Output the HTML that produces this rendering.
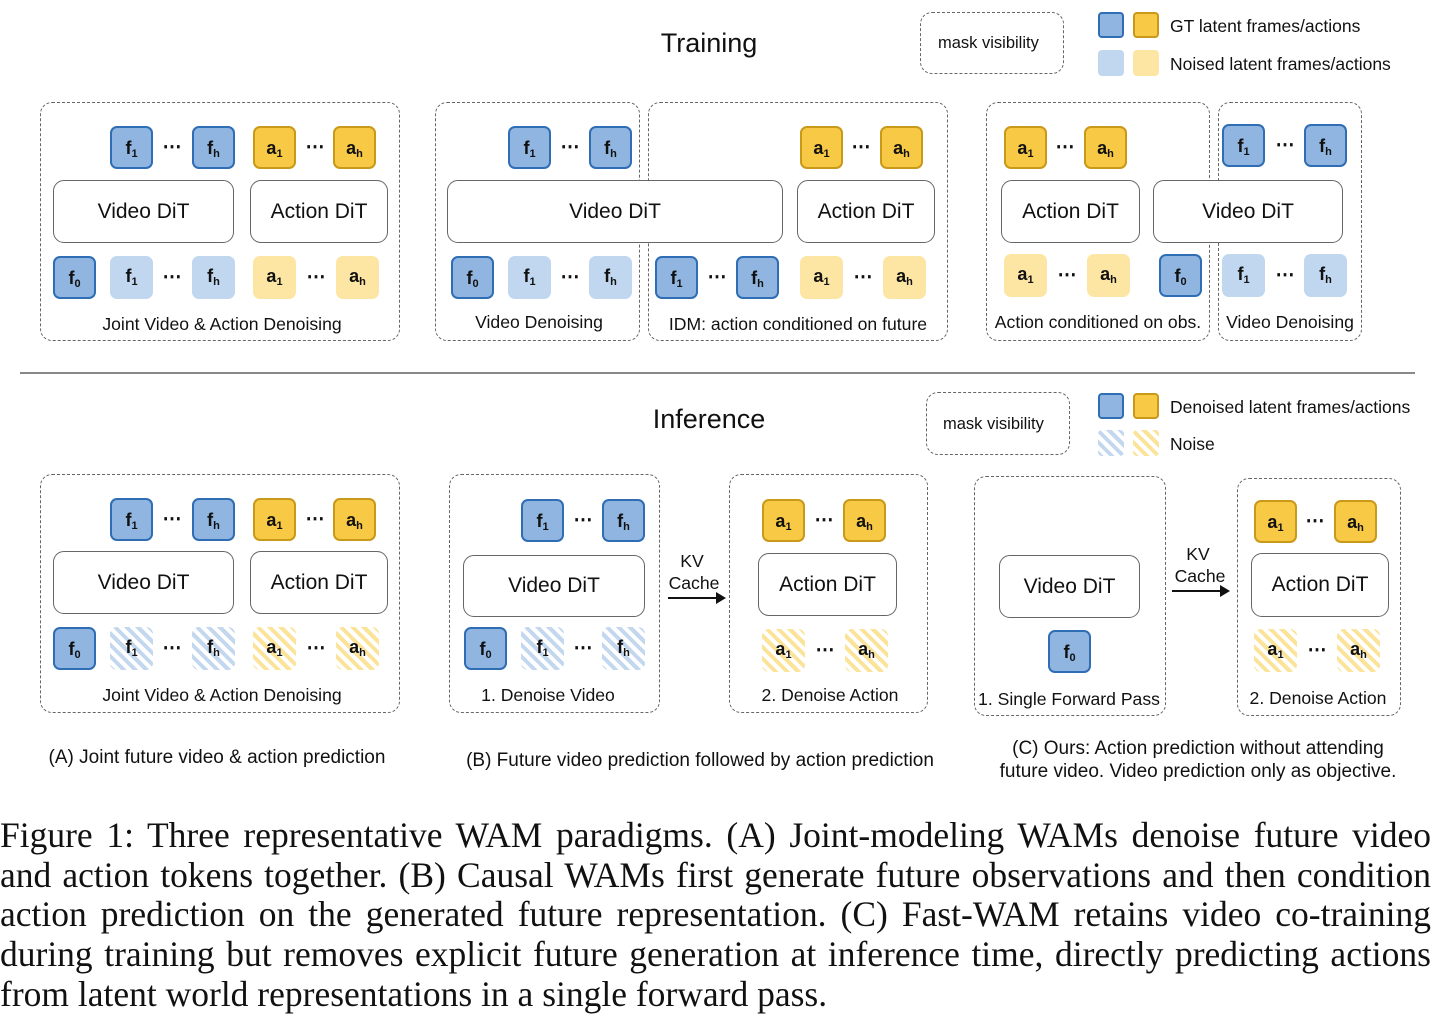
<!DOCTYPE html>
<html><head><meta charset="utf-8"><style>
body{margin:0;width:1440px;height:1023px;background:#fff;position:relative;overflow:hidden;font-family:"Liberation Sans",sans-serif;color:#111}
div{position:absolute;box-sizing:border-box}
.d{border:1.8px dashed #666;border-radius:12px}
.t{width:43px;height:43px;border-radius:7px;font-weight:bold;font-size:18px;text-align:center;line-height:41px}
.t sub{font-size:11px;vertical-align:-3px}
.g{background:#8fb5e0;border:2.2px solid #2f6db5}
.y{background:#f8c944;border:2.2px solid #c9991a}
.lb{background:#c0d7ef}
.ly{background:#fde6a3}
.hb{background:repeating-linear-gradient(45deg,#c3d8ee 0 4px,#fff 4px 8px)}
.hy{background:repeating-linear-gradient(45deg,#fbe39a 0 4px,#fff 4px 8px)}
.m{font-size:19px;font-weight:bold;width:30px;text-align:center;margin-left:-15px}
.b{border:1.8px solid #666;border-radius:11px;background:#fff;font-size:21px;display:flex;align-items:center;justify-content:center}
.l{font-size:17.6px;white-space:nowrap;transform:translateX(-50%)}
.h{font-size:27px;transform:translateX(-50%)}
.sq{width:26px;height:26px;border-radius:4px}
.cap{left:0;width:1431px;font-family:"Liberation Serif",serif;font-size:35.5px;text-align:justify;text-align-last:justify;white-space:nowrap;line-height:40px}
.arr{height:2px;background:#111}
.sc{font-size:19px}
</style></head><body>

<div class="h" style="left:709px;top:28px">Training</div>
<div class="d" style="left:920px;top:12px;width:144px;height:62px"></div>
<div style="left:938px;top:34px;font-size:16.5px">mask visibility</div>
<div class="sq g" style="left:1098px;top:12px"></div><div class="sq y" style="left:1133px;top:12px"></div>
<div style="left:1170px;top:16px;font-size:17.5px">GT latent frames/actions</div>
<div class="sq lb" style="left:1098px;top:50px"></div><div class="sq ly" style="left:1133px;top:50px"></div>
<div style="left:1170px;top:54px;font-size:17.5px">Noised latent frames/actions</div>

<div class="d" style="left:40px;top:102px;width:360px;height:239px"></div>
<div class="t g" style="left:110px;top:126px">f<sub>1</sub></div><div class="m" style="left:172px;top:136px">⋯</div><div class="t g" style="left:192px;top:126px">f<sub>h</sub></div>
<div class="t y" style="left:253px;top:126px">a<sub>1</sub></div><div class="m" style="left:315px;top:136px">⋯</div><div class="t y" style="left:333px;top:126px">a<sub>h</sub></div>
<div class="b" style="left:53px;top:180px;width:181px;height:63px">Video DiT</div>
<div class="b" style="left:250px;top:180px;width:138px;height:63px">Action DiT</div>
<div class="t g" style="left:53px;top:256px">f<sub>0</sub></div>
<div class="t lb" style="left:110px;top:256px">f<sub>1</sub></div><div class="m" style="left:172px;top:266px">⋯</div><div class="t lb" style="left:192px;top:256px">f<sub>h</sub></div>
<div class="t ly" style="left:253px;top:256px">a<sub>1</sub></div><div class="m" style="left:316px;top:266px">⋯</div><div class="t ly" style="left:336px;top:256px">a<sub>h</sub></div>
<div class="l" style="left:222px;top:314px">Joint Video &amp; Action Denoising</div>

<div class="d" style="left:435px;top:102px;width:205px;height:239px"></div>
<div class="d" style="left:648px;top:102px;width:300px;height:239px"></div>
<div class="t g" style="left:508px;top:126px">f<sub>1</sub></div><div class="m" style="left:570px;top:136px">⋯</div><div class="t g" style="left:589px;top:126px">f<sub>h</sub></div>
<div class="t y" style="left:800px;top:126px">a<sub>1</sub></div><div class="m" style="left:861px;top:136px">⋯</div><div class="t y" style="left:880px;top:126px">a<sub>h</sub></div>
<div class="b" style="left:447px;top:180px;width:336px;height:63px">Video DiT</div>
<div class="b" style="left:797px;top:180px;width:138px;height:63px">Action DiT</div>
<div class="t g" style="left:451px;top:256px">f<sub>0</sub></div>
<div class="t lb" style="left:508px;top:256px">f<sub>1</sub></div><div class="m" style="left:570px;top:266px">⋯</div><div class="t lb" style="left:589px;top:256px">f<sub>h</sub></div>
<div class="t g" style="left:655px;top:256px">f<sub>1</sub></div><div class="m" style="left:717px;top:266px">⋯</div><div class="t g" style="left:736px;top:256px">f<sub>h</sub></div>
<div class="t ly" style="left:800px;top:256px">a<sub>1</sub></div><div class="m" style="left:863px;top:266px">⋯</div><div class="t ly" style="left:883px;top:256px">a<sub>h</sub></div>
<div class="l" style="left:539px;top:312px">Video Denoising</div>
<div class="l" style="left:798px;top:314px">IDM: action conditioned on future</div>

<div class="d" style="left:986px;top:102px;width:224px;height:239px"></div>
<div class="d" style="left:1218px;top:102px;width:144px;height:239px"></div>
<div class="t y" style="left:1004px;top:126px">a<sub>1</sub></div><div class="m" style="left:1065px;top:136px">⋯</div><div class="t y" style="left:1084px;top:126px">a<sub>h</sub></div>
<div class="t g" style="left:1222px;top:124px">f<sub>1</sub></div><div class="m" style="left:1285px;top:134px">⋯</div><div class="t g" style="left:1304px;top:124px">f<sub>h</sub></div>
<div class="b" style="left:1001px;top:180px;width:139px;height:63px">Action DiT</div>
<div class="b" style="left:1153px;top:180px;width:190px;height:63px">Video DiT</div>
<div class="t ly" style="left:1004px;top:254px">a<sub>1</sub></div><div class="m" style="left:1067px;top:264px">⋯</div><div class="t ly" style="left:1087px;top:254px">a<sub>h</sub></div>
<div class="t g" style="left:1159px;top:254px">f<sub>0</sub></div>
<div class="t lb" style="left:1222px;top:254px">f<sub>1</sub></div><div class="m" style="left:1285px;top:264px">⋯</div><div class="t lb" style="left:1304px;top:254px">f<sub>h</sub></div>
<div class="l" style="left:1098px;top:312px">Action conditioned on obs.</div>
<div class="l" style="left:1290px;top:312px">Video Denoising</div>

<div style="left:20px;top:372px;width:1395px;height:1.5px;background:#888"></div>

<div class="h" style="left:709px;top:404px">Inference</div>
<div class="d" style="left:926px;top:392px;width:144px;height:63px"></div>
<div style="left:943px;top:415px;font-size:16.5px">mask visibility</div>
<div class="sq g" style="left:1098px;top:393px"></div><div class="sq y" style="left:1133px;top:393px"></div>
<div style="left:1170px;top:397px;font-size:17.5px">Denoised latent frames/actions</div>
<div class="sq hb" style="left:1098px;top:430px"></div><div class="sq hy" style="left:1133px;top:430px"></div>
<div style="left:1170px;top:434px;font-size:17.5px">Noise</div>

<div class="d" style="left:40px;top:474px;width:360px;height:239px"></div>
<div class="t g" style="left:110px;top:498px">f<sub>1</sub></div><div class="m" style="left:172px;top:508px">⋯</div><div class="t g" style="left:192px;top:498px">f<sub>h</sub></div>
<div class="t y" style="left:253px;top:498px">a<sub>1</sub></div><div class="m" style="left:315px;top:508px">⋯</div><div class="t y" style="left:333px;top:498px">a<sub>h</sub></div>
<div class="b" style="left:53px;top:551px;width:181px;height:63px">Video DiT</div>
<div class="b" style="left:250px;top:551px;width:138px;height:63px">Action DiT</div>
<div class="t g" style="left:53px;top:627px">f<sub>0</sub></div>
<div class="t hb" style="left:110px;top:627px">f<sub>1</sub></div><div class="m" style="left:172px;top:637px">⋯</div><div class="t hb" style="left:192px;top:627px">f<sub>h</sub></div>
<div class="t hy" style="left:253px;top:627px">a<sub>1</sub></div><div class="m" style="left:316px;top:637px">⋯</div><div class="t hy" style="left:336px;top:627px">a<sub>h</sub></div>
<div class="l" style="left:222px;top:685px">Joint Video &amp; Action Denoising</div>

<div class="d" style="left:449px;top:474px;width:211px;height:239px"></div>
<div class="t g" style="left:521px;top:499px">f<sub>1</sub></div><div class="m" style="left:583px;top:509px">⋯</div><div class="t g" style="left:602px;top:499px">f<sub>h</sub></div>
<div class="b" style="left:463px;top:555px;width:182px;height:62px">Video DiT</div>
<div class="t g" style="left:464px;top:627px">f<sub>0</sub></div>
<div class="t hb" style="left:521px;top:627px">f<sub>1</sub></div><div class="m" style="left:583px;top:637px">⋯</div><div class="t hb" style="left:602px;top:627px">f<sub>h</sub></div>
<div class="l" style="left:548px;top:685px">1. Denoise Video</div>
<div class="l" style="left:692px;top:551px">KV</div><div class="l" style="left:694px;top:573px">Cache</div>
<div class="arr" style="left:668px;top:597px;width:52px"></div>
<div style="left:716px;top:592px;width:0;height:0;border-left:10px solid #111;border-top:6px solid transparent;border-bottom:6px solid transparent"></div>
<div class="d" style="left:729px;top:474px;width:199px;height:239px"></div>
<div class="t y" style="left:762px;top:499px">a<sub>1</sub></div><div class="m" style="left:824px;top:509px">⋯</div><div class="t y" style="left:843px;top:499px">a<sub>h</sub></div>
<div class="b" style="left:758px;top:553px;width:139px;height:63px">Action DiT</div>
<div class="t hy" style="left:762px;top:629px">a<sub>1</sub></div><div class="m" style="left:825px;top:639px">⋯</div><div class="t hy" style="left:845px;top:629px">a<sub>h</sub></div>
<div class="l" style="left:830px;top:685px">2. Denoise Action</div>

<div class="d" style="left:974px;top:476px;width:192px;height:240px"></div>
<div class="b" style="left:999px;top:555px;width:141px;height:63px">Video DiT</div>
<div class="t g" style="left:1048px;top:630px">f<sub>0</sub></div>
<div class="l" style="left:1069px;top:689px">1. Single Forward Pass</div>
<div class="l" style="left:1198px;top:544px">KV</div><div class="l" style="left:1200px;top:566px">Cache</div>
<div class="arr" style="left:1172px;top:590px;width:50px"></div>
<div style="left:1220px;top:585px;width:0;height:0;border-left:10px solid #111;border-top:6px solid transparent;border-bottom:6px solid transparent"></div>
<div class="d" style="left:1237px;top:478px;width:164px;height:238px"></div>
<div class="t y" style="left:1254px;top:500px">a<sub>1</sub></div><div class="m" style="left:1315px;top:510px">⋯</div><div class="t y" style="left:1334px;top:500px">a<sub>h</sub></div>
<div class="b" style="left:1251px;top:553px;width:138px;height:64px">Action DiT</div>
<div class="t hy" style="left:1254px;top:629px">a<sub>1</sub></div><div class="m" style="left:1317px;top:639px">⋯</div><div class="t hy" style="left:1337px;top:629px">a<sub>h</sub></div>
<div class="l" style="left:1318px;top:688px">2. Denoise Action</div>

<div class="l sc" style="left:217px;top:747px">(A) Joint future video &amp; action prediction</div>
<div class="l sc" style="left:700px;top:750px">(B) Future video prediction followed by action prediction</div>
<div class="l sc" style="left:1198px;top:738px">(C) Ours: Action prediction without attending</div>
<div class="l sc" style="left:1198px;top:761px">future video. Video prediction only as objective.</div>

<div class="cap" style="top:815px">Figure 1: Three representative WAM paradigms. (A) Joint-modeling WAMs denoise future video</div>
<div class="cap" style="top:855px">and action tokens together. (B) Causal WAMs first generate future observations and then condition</div>
<div class="cap" style="top:894px">action prediction on the generated future representation. (C) Fast-WAM retains video co-training</div>
<div class="cap" style="top:934px">during training but removes explicit future generation at inference time, directly predicting actions</div>
<div class="cap" style="top:974px;width:auto;text-align-last:auto">from latent world representations in a single forward pass.</div>
</body></html>
